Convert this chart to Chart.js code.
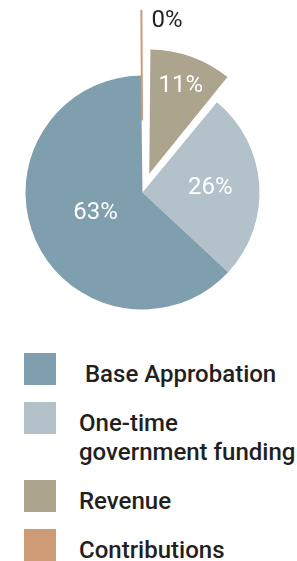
<!DOCTYPE html>
<html>
<head>
<meta charset="utf-8">
<script src="https://cdn.jsdelivr.net/npm/chart.js@4.4.1/dist/chart.umd.min.js"></script>
<style>
  html, body { margin: 0; padding: 0; background: #fff; }
  body { width: 297px; height: 561px; position: relative; overflow: hidden; font-family: Roboto, sans-serif; }
  #pie { position: absolute; left: 0; top: 10px; }
  #legend { position: absolute; left: 24px; top: 353px; margin: 0; padding: 0; list-style: none; }
  #legend li { display: flex; align-items: flex-start; margin-bottom: 13px; }
  #legend .box { width: 32px; height: 32px; flex: none; }
  #legend .txt { margin-left: 23px; padding-top: 7px; font-size: 24px; font-weight: 500; line-height: 29px; color: #231f20; white-space: pre; }
</style>
</head>
<body>
<canvas id="pie" width="285" height="302"></canvas>
<ul id="legend"></ul>
<script>
// legend order
const categories = [' Base Approbation', ['One-time', 'government funding'], 'Revenue', 'Contributions'];
const shares = [63, 26, 11, 0.2];
const colors = ['#7f9eae', '#b2c1ca', '#ada48d', '#cd9b75'];

// clockwise order of the slices, starting at the top
const drawOrder = [2, 1, 0, 3];
const explode = [0, 0, 80, 288];       // per legend item
const labelRadius = [0.44, 0.58, 0.97, 1.47];

const sliceLabels = drawOrder.map(i => categories[i]);
const sliceValues = drawOrder.map(i => shares[i]);
const sliceColors = drawOrder.map(i => colors[i]);

const pctPlugin = {
  id: 'pctLabels',
  afterDatasetsDraw(chart) {
    const ctx = chart.ctx;
    const meta = chart.getDatasetMeta(0);
    ctx.save();
    ctx.font = '24px Roboto';
    ctx.textBaseline = 'middle';
    meta.data.forEach((arc, k) => {
      const i = drawOrder[k];
      const p = arc.getProps(['x', 'y', 'startAngle', 'endAngle', 'outerRadius']);
      const mid = (p.startAngle + p.endAngle) / 2;
      const r = p.outerRadius * labelRadius[i];
      let x = p.x + Math.cos(mid) * r;
      const y = p.y + Math.sin(mid) * r;
      const txt = Math.round(shares[i]) + '%';
      if (shares[i] < 1) {
        ctx.fillStyle = '#231f20';
        ctx.textAlign = 'left';
        x += 10;
      } else {
        ctx.fillStyle = '#ffffff';
        ctx.textAlign = 'center';
      }
      ctx.fillText(txt, x, y);
    });
    ctx.restore();
  }
};

const chart = new Chart(document.getElementById('pie').getContext('2d'), {
  type: 'pie',
  data: {
    labels: sliceLabels,
    datasets: [{
      data: sliceValues,
      backgroundColor: sliceColors,
      borderColor: sliceColors,
      borderWidth: drawOrder.map(i => shares[i] < 1 ? 2 : 0),
      offset: drawOrder.map(i => explode[i]),
      radius: 117,
      cutout: '0%',
      clip: false
    }]
  },
  options: {
    responsive: false,
    animation: false,
    events: [],
    layout: { padding: { top: 63, left: 0, right: 0, bottom: 0 } },
    plugins: { legend: { display: false }, tooltip: { enabled: false } }
  },
  plugins: [pctPlugin]
});

// legend below the pie
const ul = document.getElementById('legend');
categories.forEach((c, i) => {
  const li = document.createElement('li');
  const box = document.createElement('span');
  box.className = 'box';
  box.style.background = colors[i];
  const t = document.createElement('span');
  t.className = 'txt';
  t.textContent = Array.isArray(c) ? c.join('\n') : c;
  li.appendChild(box);
  li.appendChild(t);
  ul.appendChild(li);
});
</script>
</body>
</html>
